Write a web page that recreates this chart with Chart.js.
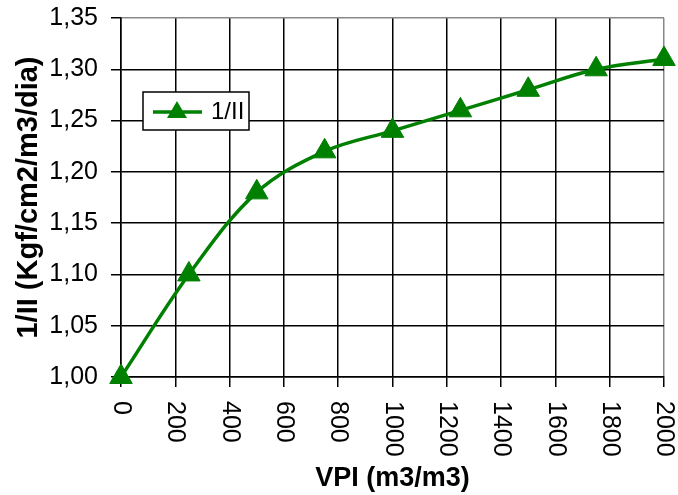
<!DOCTYPE html>
<html>
<head>
<meta charset="utf-8">
<script src="https://cdn.jsdelivr.net/npm/chart.js@4/dist/chart.umd.min.js"></script>
<style>
  body { margin: 0; background: #fff; }
  #wrap { width: 678px; height: 495px; }
</style>
</head>
<body>
<div id="wrap"><canvas id="graphic" width="678" height="495"></canvas></div>
<script>
// data
let vpi = [0, 250, 500, 750, 1000, 1250, 1500, 1750, 2000]
let invII = [1.00, 1.10, 1.18, 1.22, 1.24, 1.26, 1.28, 1.30, 1.31]
let seriesName = "1/II"
let xTitle = "VPI (m3/m3)"
let yTitle = "1/II (Kgf/cm2/m3/dia)"

let green = "#008000"
let fontFamily = "'Liberation Sans', Arial, sans-serif"

// x labels are drawn rotated clockwise (top to bottom), like in Excel
const xLabels = {
    id: "xLabels",
    afterDraw(chart) {
        const ctx = chart.ctx
        const xs = chart.scales.x
        ctx.save()
        ctx.font = "25px " + fontFamily
        ctx.fillStyle = "#000"
        ctx.textAlign = "left"
        ctx.textBaseline = "middle"
        xs.ticks.forEach(function (t) {
            const px = xs.getPixelForValue(t.value)
            ctx.save()
            ctx.translate(px, xs.top + 24)
            ctx.rotate(Math.PI / 2)
            ctx.fillText(String(t.value), 0, 0)
            ctx.restore()
        })
        ctx.restore()
    },
}

// legend box sits inside the plot area
const boxLegend = {
    id: "boxLegend",
    afterDatasetsDraw(chart) {
        const ctx = chart.ctx
        const ds = chart.data.datasets[0]
        ctx.save()
        ctx.fillStyle = "#fff"
        ctx.strokeStyle = "#000"
        ctx.lineWidth = 1.5
        ctx.fillRect(143, 92, 106, 38)
        ctx.strokeRect(143, 92, 106, 38)
        ctx.strokeStyle = ds.borderColor
        ctx.lineWidth = 3.5
        ctx.beginPath()
        ctx.moveTo(153, 112)
        ctx.lineTo(202, 112)
        ctx.stroke()
        ctx.fillStyle = ds.backgroundColor
        ctx.beginPath()
        ctx.moveTo(177, 101)
        ctx.lineTo(187, 118)
        ctx.lineTo(167, 118)
        ctx.closePath()
        ctx.fill()
        ctx.fillStyle = "#000"
        ctx.font = "24px " + fontFamily
        ctx.textBaseline = "middle"
        ctx.fillText(ds.label, 211, 112)
        ctx.restore()
    },
}

function noPad(s) {
    s.paddingTop = 0
    s.paddingBottom = 0
    s.paddingLeft = 0
    s.paddingRight = 0
}

const chartID = document.getElementById("graphic").getContext("2d")
let graphic = new Chart(chartID, {
    type: "line",
    data: {
        datasets: [
            {
                label: seriesName,
                data: vpi.map((v, i) => ({ x: v, y: invII[i] })),
                borderColor: green,
                backgroundColor: green,
                borderWidth: 3.5,
                tension: 0.35,
                pointStyle: "triangle",
                pointRadius: 13,
                pointBorderWidth: 1,
                pointBackgroundColor: green,
                pointBorderColor: green,
                clip: false,
            },
        ],
    },
    options: {
        responsive: false,
        animation: false,
        layout: { padding: { top: 18, right: 11, left: 0, bottom: 0 } },
        plugins: {
            legend: { display: false },
            tooltip: { enabled: false },
        },
        scales: {
            x: {
                type: "linear",
                min: 0,
                max: 2000,
                ticks: {
                    stepSize: 200,
                    display: false,
                },
                grid: {
                    color: (c) => (c.tick && c.tick.value === 2000 ? "#888" : "#000"),
                    tickColor: "#000",
                    lineWidth: 1.5,
                    tickLength: 10,
                },
                border: { color: "#000", width: 1.5 },
                title: {
                    display: true,
                    text: xTitle,
                    color: "#000",
                    font: { size: 27, weight: "bold", family: fontFamily },
                    padding: { top: 0, bottom: 0 },
                },
                afterFit: (s) => {
                    s.height = 118
                    noPad(s)
                },
            },
            y: {
                min: 1.0,
                max: 1.35,
                ticks: {
                    stepSize: 0.05,
                    color: "#000",
                    padding: 13,
                    font: { size: 25, family: fontFamily },
                    callback: (v) => v.toFixed(2).replace(".", ","),
                },
                grid: {
                    color: (c) => (c.tick && Math.abs(c.tick.value - 1.35) < 1e-6 ? "#888" : "#000"),
                    tickColor: "#000",
                    lineWidth: 1.5,
                    tickLength: 10,
                },
                border: { color: "#000", width: 1.5 },
                title: {
                    display: true,
                    text: yTitle,
                    color: "#000",
                    font: { size: 29, weight: "bold", family: fontFamily },
                    padding: { top: 12, bottom: 0 },
                },
                afterFit: (s) => {
                    s.width = 121
                    noPad(s)
                },
            },
        },
    },
    plugins: [xLabels, boxLegend],
})
</script>
</body>
</html>
